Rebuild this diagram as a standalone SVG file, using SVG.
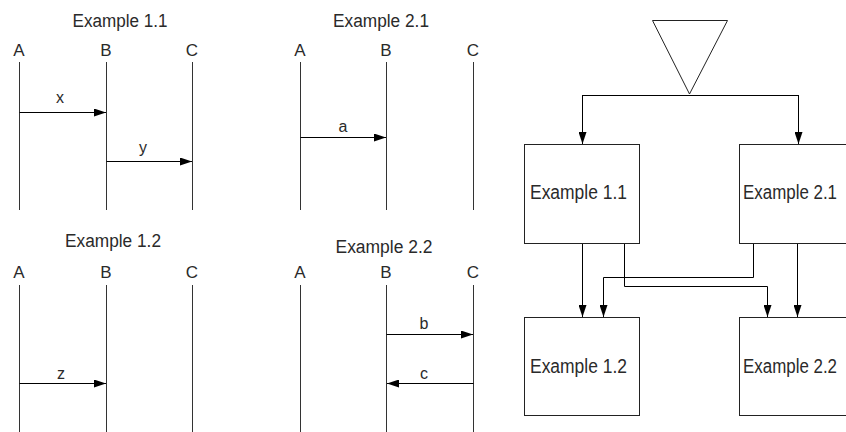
<svg xmlns="http://www.w3.org/2000/svg" width="846" height="432" viewBox="0 0 846 432">
  <style>
    text { font-family: "Liberation Sans", Arial, sans-serif; fill: #2a2a2a; }
    .title { font-size: 18px; text-anchor: middle; }
    .actor { font-size: 17px; text-anchor: middle; }
    .msg { font-size: 16px; text-anchor: middle; }
    .boxlabel { font-size: 20px; }
    .life { stroke: #333; stroke-width: 1; fill: none; }
    .wire { stroke: #000; stroke-width: 1; fill: none; }
    .node { stroke: #222; stroke-width: 1; fill: #fff; }
  </style>
  <defs>
    <marker id="head" viewBox="0 0 12 8" refX="12" refY="4" markerWidth="12" markerHeight="8" markerUnits="userSpaceOnUse" orient="auto">
      <path d="M0,0 L12,4 L0,8 Z" fill="#000"/>
    </marker>
  </defs>

  <!-- Sequence: Example 1.1 -->
  <g id="seq-1-1">
    <text class="title" x="120" y="27" textLength="95" lengthAdjust="spacingAndGlyphs">Example 1.1</text>
    <text class="actor" x="19" y="56">A</text>
    <text class="actor" x="106" y="56">B</text>
    <text class="actor" x="192" y="56">C</text>
    <path class="life" d="M19.5,62 V210 M106.5,62 V210 M192.5,62 V210"/>
    <text class="msg" x="60" y="103">x</text>
    <line class="wire" x1="19.5" y1="112.5" x2="106" y2="112.5" marker-end="url(#head)"/>
    <text class="msg" x="143" y="153">y</text>
    <line class="wire" x1="106.5" y1="161.5" x2="192" y2="161.5" marker-end="url(#head)"/>
  </g>

  <!-- Sequence: Example 2.1 -->
  <g id="seq-2-1">
    <text class="title" x="381" y="27" textLength="96" lengthAdjust="spacingAndGlyphs">Example 2.1</text>
    <text class="actor" x="300" y="56">A</text>
    <text class="actor" x="386" y="56">B</text>
    <text class="actor" x="473" y="56">C</text>
    <path class="life" d="M300.5,62 V210 M386.5,62 V210 M473.5,62 V210"/>
    <text class="msg" x="343" y="132">a</text>
    <line class="wire" x1="300.5" y1="137.5" x2="386" y2="137.5" marker-end="url(#head)"/>
  </g>

  <!-- Sequence: Example 1.2 -->
  <g id="seq-1-2">
    <text class="title" x="113" y="247" textLength="96" lengthAdjust="spacingAndGlyphs">Example 1.2</text>
    <text class="actor" x="19" y="278">A</text>
    <text class="actor" x="106" y="278">B</text>
    <text class="actor" x="192" y="278">C</text>
    <path class="life" d="M19.5,285 V432 M106.5,285 V432 M192.5,285 V432"/>
    <text class="msg" x="61" y="379">z</text>
    <line class="wire" x1="19.5" y1="383.5" x2="106" y2="383.5" marker-end="url(#head)"/>
  </g>

  <!-- Sequence: Example 2.2 -->
  <g id="seq-2-2">
    <text class="title" x="384" y="253" textLength="97" lengthAdjust="spacingAndGlyphs">Example 2.2</text>
    <text class="actor" x="300" y="278">A</text>
    <text class="actor" x="386" y="278">B</text>
    <text class="actor" x="473" y="278">C</text>
    <path class="life" d="M300.5,285 V432 M386.5,285 V432 M473.5,285 V432"/>
    <text class="msg" x="424" y="329">b</text>
    <line class="wire" x1="386.5" y1="334.5" x2="473" y2="334.5" marker-end="url(#head)"/>
    <text class="msg" x="424" y="379">c</text>
    <line class="wire" x1="473.5" y1="383.5" x2="387" y2="383.5" marker-end="url(#head)"/>
  </g>

  <!-- Flow graph nodes (right-hand boxes run to the page edge) -->
  <g id="start">
    <polygon class="node" points="652.5,20.5 727.5,20.5 689.5,94"/>
  </g>
  <g id="box-1-1">
    <rect class="node" x="524.5" y="144.5" width="115" height="99"/>
    <text class="boxlabel" x="530" y="199" textLength="97" lengthAdjust="spacingAndGlyphs">Example 1.1</text>
  </g>
  <g id="box-2-1">
    <rect class="node" x="739.5" y="144.5" width="107" height="99"/>
    <text class="boxlabel" x="743" y="199" textLength="94" lengthAdjust="spacingAndGlyphs">Example 2.1</text>
  </g>
  <g id="box-1-2">
    <rect class="node" x="524.5" y="317.5" width="115" height="98"/>
    <text class="boxlabel" x="530" y="373" textLength="97" lengthAdjust="spacingAndGlyphs">Example 1.2</text>
  </g>
  <g id="box-2-2">
    <rect class="node" x="739.5" y="317.5" width="107" height="98"/>
    <text class="boxlabel" x="743" y="373" textLength="94" lengthAdjust="spacingAndGlyphs">Example 2.2</text>
  </g>

  <!-- Flow graph connectors -->
  <g id="connectors">
    <line class="wire" x1="582" y1="95.5" x2="798" y2="95.5"/>
    <line class="wire" x1="582.5" y1="95" x2="582.5" y2="144" marker-end="url(#head)"/>
    <line class="wire" x1="798.5" y1="95" x2="798.5" y2="144" marker-end="url(#head)"/>
    <line class="wire" x1="582.5" y1="244" x2="582.5" y2="317" marker-end="url(#head)"/>
    <polyline class="wire" points="624.5,244 624.5,286.5 767.5,286.5 767.5,317" marker-end="url(#head)"/>
    <polyline class="wire" points="753.5,244 753.5,277.5 603.5,277.5 603.5,317" marker-end="url(#head)"/>
    <line class="wire" x1="797.5" y1="244" x2="797.5" y2="317" marker-end="url(#head)"/>
  </g>
</svg>
